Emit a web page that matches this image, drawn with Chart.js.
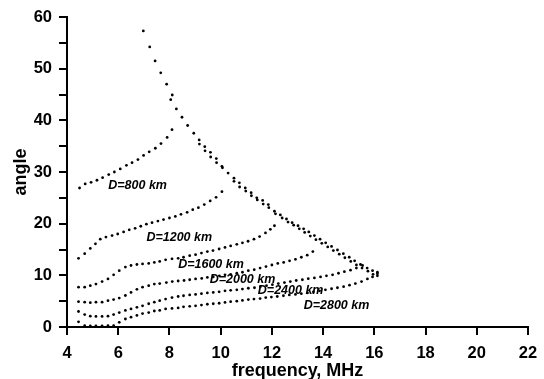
<!DOCTYPE html>
<html>
<head>
<meta charset="utf-8">
<script src="https://cdn.jsdelivr.net/npm/chart.js@4"></script>
<style>
html,body{margin:0;padding:0;background:#fff;}
canvas{display:block;}
</style>
</head>
<body>
<canvas id="c" width="544" height="379"></canvas>
<script>
// ---- data (frequency MHz, angle deg) ----
const d800X = [4.49,4.71,4.94,5.17,5.39,5.63,5.85,6.08,6.32,6.54,6.77,6.99,7.21,7.45,7.67,7.91,8.10];
const d800Y = [26.9,27.7,28.0,28.4,28.9,29.5,30.0,30.6,31.3,31.8,32.4,33.2,33.9,34.6,35.5,36.7,38.2];

const d1200X = [4.45,4.69,4.91,5.11,5.30,5.52,5.76,5.98,6.21,6.43,6.66,6.88,7.10,7.32,7.55,7.77,8.00,8.23,8.45,8.69,8.91,9.13,9.36,9.59,9.82,10.05];
const d1200Y = [13.3,14.2,15.2,16.1,17.0,17.4,17.7,18.0,18.4,18.8,19.1,19.5,19.9,20.2,20.5,20.8,21.1,21.4,21.8,22.2,22.7,23.1,23.7,24.4,25.1,26.2];

const d1600X = [4.45,4.69,4.91,5.13,5.37,5.60,5.82,6.04,6.28,6.50,6.73,6.95,7.19,7.41,7.62,7.85,8.10,8.34,8.55,8.79,9.02,9.25,9.48,9.70,9.94,10.17,10.39,10.63,10.85,11.07,11.30,11.52,11.75,11.94,12.10];
const d1600Y = [7.7,7.7,8.0,8.3,8.8,9.3,10.1,10.9,11.6,11.9,12.1,12.2,12.3,12.5,12.7,13.0,13.2,13.3,13.5,13.8,14.0,14.3,14.6,14.8,15.1,15.4,15.7,16.0,16.3,16.6,17.0,17.5,18.2,18.9,19.6];

const d2000X = [4.45,4.69,4.91,5.13,5.37,5.60,5.82,6.04,6.28,6.50,6.73,6.95,7.19,7.41,7.62,7.88,8.11,8.34,8.57,8.79,9.02,9.26,9.48,9.71,9.95,10.17,10.39,10.63,10.85,11.08,11.31,11.54,11.77,12.00,12.23,12.46,12.69,12.92,13.15,13.38,13.60];
const d2000Y = [4.9,4.8,4.7,4.8,4.8,5.1,5.3,5.6,6.1,6.7,7.3,7.7,8.0,8.3,8.4,8.6,8.8,8.9,9.0,9.15,9.3,9.4,9.6,9.7,9.9,10.1,10.2,10.4,10.6,10.9,11.1,11.4,11.7,12.0,12.3,12.5,12.8,13.1,13.5,13.9,14.6];

const d2400X = [4.45,4.69,4.91,5.13,5.37,5.60,5.82,6.04,6.28,6.50,6.73,6.95,7.19,7.41,7.62,7.85,8.10,8.34,8.55,8.79,9.02,9.25,9.48,9.71,9.94,10.17,10.39,10.63,10.85,11.08,11.32,11.55,11.79,12.02,12.25,12.49,12.72,12.95,13.19,13.42,13.66,13.90,14.13,14.37,14.60,14.83,15.07,15.30,15.54];
const d2400Y = [3.0,2.4,2.1,2.05,2.05,2.1,2.4,2.8,3.2,3.5,3.8,4.1,4.5,4.8,5.1,5.4,5.7,5.9,6.05,6.2,6.3,6.45,6.6,6.7,6.8,7.0,7.1,7.2,7.35,7.5,7.6,7.8,8.0,8.2,8.4,8.6,8.8,9.0,9.15,9.35,9.5,9.7,9.9,10.1,10.4,10.7,11.0,11.4,11.9];

const d2800X = [4.45,4.69,4.91,5.13,5.37,5.60,5.82,6.04,6.28,6.50,6.73,6.95,7.19,7.41,7.62,7.85,8.10,8.34,8.55,8.79,9.02,9.25,9.48,9.71,9.94,10.17,10.39,10.63,10.85,11.08,11.30,11.54,11.76,11.98,12.21,12.45,12.68,12.92,13.15,13.39,13.62,13.86,14.09,14.33,14.56,14.80,15.03,15.26,15.50,15.73,15.93,16.12];
const d2800Y = [1.0,0.25,0.2,0.2,0.2,0.25,0.25,0.9,1.55,1.9,2.25,2.6,2.8,3.1,3.2,3.5,3.6,3.7,3.9,4.0,4.1,4.25,4.4,4.5,4.6,4.75,4.9,5.0,5.15,5.3,5.4,5.5,5.7,5.8,5.9,6.05,6.2,6.3,6.45,6.6,6.8,7.0,7.2,7.4,7.6,7.8,8.1,8.4,8.8,9.3,9.7,10.3];

const envAX = [6.98,7.23,7.44,7.66,7.89,8.11,8.27,8.49,8.71,8.95,9.16,9.38,9.60,9.83,10.05,10.29,10.52,10.73,10.96,11.19,11.41,11.64,11.86,12.10,12.33,12.57,12.79,13.02,13.24,13.44,13.66,13.88,14.10,14.33,14.56,14.79,15.02,15.23,15.46,15.72,15.93,16.12];
const envAY = [57.3,54.2,51.5,49.2,47.0,44.9,42.2,40.6,39.0,37.5,36.2,34.9,33.8,32.6,31.1,29.8,28.8,27.9,26.9,26.0,25.0,24.5,23.7,22.4,21.7,20.9,20.2,19.6,19.0,18.4,17.7,17.0,16.3,15.6,14.9,14.2,13.5,12.8,12.1,11.4,10.9,10.6];

const envBX = [8.05,9.17,9.39,9.61,9.84,10.07,10.52,10.74,10.98,11.20,11.43,11.66,11.88,12.14,12.40,12.63,12.85,13.07,13.28,13.50,13.72,13.95,14.18,14.40,14.63,14.85,15.08,15.30,15.52,15.75,15.95,16.12];
const envBY = [44.0,35.4,34.1,32.9,31.8,30.8,28.2,27.1,26.3,25.4,24.6,23.8,23.1,21.9,21.1,20.3,19.7,19.0,18.3,17.6,16.9,16.2,15.5,14.8,14.1,13.4,12.7,12.0,11.4,10.8,10.2,9.9];

// curve labels (text and anchor in data units)
const labelTexts = ["D=800 km","D=1200 km","D=1600 km","D=2000 km","D=2400 km","D=2800 km"];
const labelAtX   = [5.61, 7.10, 8.34, 9.57, 11.45, 13.24];
const labelAtY   = [27.3, 17.4, 12.05, 9.15, 7.1, 4.1];

const xTickValues = [4,6,8,10,12,14,16,18,20,22];

function pts(xs, ys){ return xs.map((x,i)=>({x:x, y:ys[i]})); }

const seriesList = [
  [envAX, envAY], [envBX, envBY],
  [d800X, d800Y], [d1200X, d1200Y], [d1600X, d1600Y],
  [d2000X, d2000Y], [d2400X, d2400Y], [d2800X, d2800Y]
];

const datasets = seriesList.map(s => ({
  data: pts(s[0], s[1]),
  showLine: false,
  pointRadius: 1.4,
  pointBorderWidth: 0,
  pointBackgroundColor: '#000',
  borderColor: '#000'
}));

const labelPlugin = {
  id: 'curveLabels',
  afterDatasetsDraw(chart){
    const ctx = chart.ctx, xs = chart.scales.x, ys = chart.scales.y;
    ctx.save();
    ctx.fillStyle = '#000';
    ctx.font = 'italic bold 12.5px "Liberation Sans", Arial, sans-serif';
    ctx.textAlign = 'left';
    ctx.textBaseline = 'middle';
    labelTexts.forEach((t,i)=>{
      ctx.fillText(t, xs.getPixelForValue(labelAtX[i]), ys.getPixelForValue(labelAtY[i]));
    });
    ctx.restore();
  }
};

const FONT = '"Liberation Sans", Arial, sans-serif';

new Chart(document.getElementById('c'), {
  type: 'scatter',
  data: { datasets },
  options: {
    responsive: false,
    animation: false,
    events: [],
    layout: { padding: { left: 0, right: 16, top: 17, bottom: 0 } },
    plugins: { legend: { display: false }, tooltip: { enabled: false } },
    scales: {
      x: {
        type: 'linear', min: 4, max: 22,
        afterBuildTicks(scale){ scale.ticks = xTickValues.map(v=>({value:v})); },
        afterFit(scale){ scale.height = 52; scale.paddingLeft = 0; scale.paddingRight = 0; },
        ticks: { color: '#000', padding: 9, font: { family: FONT, size: 16.5, weight: 'bold' } },
        grid: { display: true, drawOnChartArea: false, drawTicks: true, tickLength: 8, color: '#000', lineWidth: 2 },
        border: { display: true, color: '#000', width: 2 },
        title: { display: true, text: 'frequency, MHz', color: '#000', padding: { top: 0, bottom: 0 },
                 font: { family: FONT, size: 18, weight: 'bold', lineHeight: 0.9 } }
      },
      y: {
        type: 'linear', min: 0, max: 60,
        ticks: { stepSize: 5, color: '#000', padding: 7,
                 callback: v => (v % 10 === 0 ? String(v) : ''),
                 font: { family: FONT, size: 16.5, weight: 'bold' } },
        afterFit(scale){ scale.width = 67; scale.paddingTop = 0; scale.paddingBottom = 0; },
        grid: { display: true, drawOnChartArea: false, drawTicks: true, tickLength: 8, color: '#000', lineWidth: 2 },
        border: { display: true, color: '#000', width: 2 },
        title: { display: true, text: 'angle', color: '#000', padding: { top: 10, bottom: 0 },
                 font: { family: FONT, size: 18, weight: 'bold' } }
      }
    }
  },
  plugins: [labelPlugin]
});
</script>
</body>
</html>
